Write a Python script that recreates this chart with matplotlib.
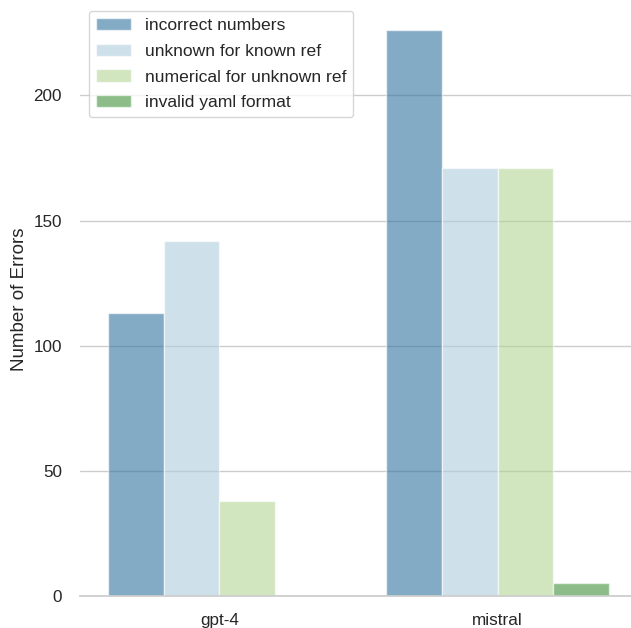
import numpy as np
import pandas as pd
import matplotlib
matplotlib.use("Agg")
import matplotlib.pyplot as plt
import seaborn as sns

# error counts per model
models = ["gpt-4", "mistral"]
error_types = ["incorrect numbers", "unknown for known ref",
               "numerical for unknown ref", "invalid yaml format"]
gpt4_counts = [113, 142, 38, 0]
mistral_counts = [226, 171, 171, 5]

df = pd.DataFrame({
    "model": np.repeat(models, len(error_types)),
    "error": error_types * len(models),
    "count": gpt4_counts + mistral_counts,
})

sns.set_theme(style="whitegrid")
plt.rcParams["font.family"] = ["Liberation Sans", "DejaVu Sans"]
palette = ["#1f78b4", "#a6cee3", "#b2df8a", "#33a02c"]

fig = plt.figure(figsize=(6.31, 6.28), dpi=100)
ax = fig.add_axes([80 / 631, 32 / 628, 557 / 631, 594 / 628])
sns.barplot(data=df, x="model", y="count", hue="error", palette=palette,
            alpha=0.6, ax=ax, edgecolor="white", linewidth=1)
ax.set_ylim(0, 237.3)
ax.set_xlim(-0.5, 1.5)
ax.set_xlabel("")
ax.set_ylabel("Number of Errors", fontsize=13.5, labelpad=4)
ax.tick_params(labelsize=12.3)
ax.tick_params(axis="y", pad=7)
ax.tick_params(axis="x", pad=6)
ax.grid(axis="x", visible=False)
sns.despine(ax=ax, left=True)
ax.spines["bottom"].set_color("#cccccc")
ax.legend(loc="upper left", bbox_to_anchor=(0.0, 1.0), fontsize=12.6,
          labelspacing=0.6, frameon=True, title=None)

fig.savefig("out.png", dpi=100)
